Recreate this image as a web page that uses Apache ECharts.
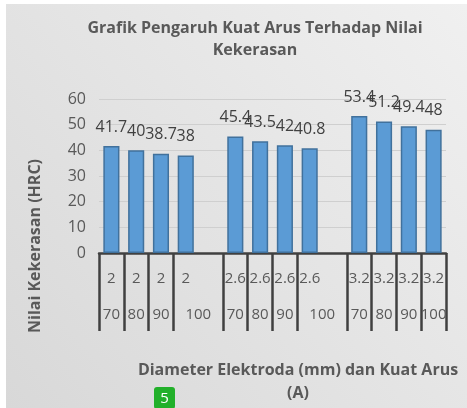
<!DOCTYPE html>
<html>
<head>
<meta charset="utf-8">
<script src="https://cdn.jsdelivr.net/npm/echarts@6/dist/echarts.min.js"></script>
<style>
  html, body { margin: 0; padding: 0; background: #fff; }
  #chart { width: 467px; height: 408px; }
</style>
</head>
<body>
<div id="chart"></div>
<script>
// diameter row and current row of the x axis table, blank columns between groups
var diameters = ['2', '2', '2', '2', '', '2.6', '2.6', '2.6', '2.6', '', '3.2', '3.2', '3.2', '3.2'];
var currents = ['70', '80', '90', '100', '', '70', '80', '90', '100', '', '70', '80', '90', '100'];
var hardness = [41.7, 40, 38.7, 38, null, 45.4, 43.5, 42, 40.8, null, 53.4, 51.2, 49.4, 48];
var yTicks = [0, 10, 20, 30, 40, 50, 60];

var font = '"Open Sans", sans-serif';
var textColor = '#595959';

var chart = echarts.init(document.getElementById('chart'));

var option = {
    animation: false,
    textStyle: { fontFamily: font },
    title: {
        text: 'Grafik Pengaruh Kuat Arus Terhadap Nilai\nKekerasan',
        left: 250,
        top: 12,
        textAlign: 'center',
        textStyle: {
            fontFamily: font,
            fontSize: 16,
            fontWeight: 'bold',
            color: textColor,
            lineHeight: 22
        }
    },
    graphic: [
        {
            type: 'rect',
            z: -10,
            shape: { x: 6, y: 4, width: 461, height: 404 },
            style: {
                fill: new echarts.graphic.LinearGradient(1, 0, 0, 1, [
                    { offset: 0, color: '#f0f0f0' },
                    { offset: 1, color: '#d8d8d8' }
                ])
            }
        },
        {
            type: 'text',
            x: 35,
            y: 246,
            rotation: Math.PI / 2,
            style: {
                text: 'Nilai Kekerasan (HRC)',
                fontFamily: font,
                fontSize: 16,
                fontWeight: 'bold',
                fill: textColor,
                align: 'center',
                verticalAlign: 'middle'
            }
        },
        {
            type: 'text',
            x: 298,
            y: 359,
            style: {
                text: 'Diameter Elektroda (mm) dan Kuat Arus\n(A)',
                fontFamily: font,
                fontSize: 16,
                fontWeight: 'bold',
                fill: textColor,
                align: 'center',
                verticalAlign: 'top',
                lineHeight: 23
            }
        },
        {
            type: 'group',
            x: 154,
            y: 387,
            children: [
                {
                    type: 'rect',
                    shape: { x: 0, y: 0, width: 21, height: 22, r: 3 },
                    style: { fill: '#22b02a' }
                },
                {
                    type: 'text',
                    x: 10.5,
                    y: 12,
                    style: {
                        text: '5',
                        fontFamily: font,
                        fontSize: 15,
                        fill: '#fff',
                        align: 'center',
                        verticalAlign: 'middle'
                    }
                }
            ]
        }
    ],
    grid: {
        left: 99,
        right: 21,
        top: 99,
        bottom: 155
    },
    xAxis: {
        type: 'category',
        data: diameters,
        axisLine: { lineStyle: { color: '#404040', width: 2.5 } },
        axisTick: {
            show: true,
            length: 78,
            lineStyle: { color: '#404040', width: 2.5 },
            interval: function (index) {
                return diameters[index] !== '';
            }
        },
        axisLabel: {
            interval: 0,
            margin: 8,
            formatter: function (value, index) {
                if (value === '') return '';
                var cur = currents[index];
                // the 100 cell is merged with the blank column after it
                if (cur === '100' && index < diameters.length - 1) {
                    return '{a|' + value + '}\n{c|' + cur + '}';
                }
                return '{a|' + value + '}\n{b|' + cur + '}';
            },
            rich: {
                a: { fontFamily: font, fontSize: 15, color: textColor, lineHeight: 36 },
                b: { fontFamily: font, fontSize: 15, color: textColor, lineHeight: 36 },
                c: { fontFamily: font, fontSize: 15, color: textColor, lineHeight: 36, padding: [0, 0, 0, 25] }
            }
        }
    },
    yAxis: {
        type: 'value',
        min: 0,
        max: yTicks[yTicks.length - 1],
        interval: 10,
        axisLine: { show: false },
        axisTick: { show: false },
        axisLabel: { color: textColor, fontSize: 16, margin: 13, fontFamily: font },
        splitLine: { lineStyle: { color: '#cfcfcf', width: 1 } }
    },
    series: [
        {
            type: 'bar',
            data: hardness,
            barCategoryGap: '35%',
            itemStyle: {
                color: '#5b9bd5',
                borderColor: '#41719c',
                borderWidth: 1.5
            },
            label: {
                show: true,
                position: 'top',
                distance: 11,
                fontSize: 16,
                fontFamily: font,
                color: '#404040'
            }
        }
    ]
};

chart.setOption(option);
</script>
</body>
</html>
